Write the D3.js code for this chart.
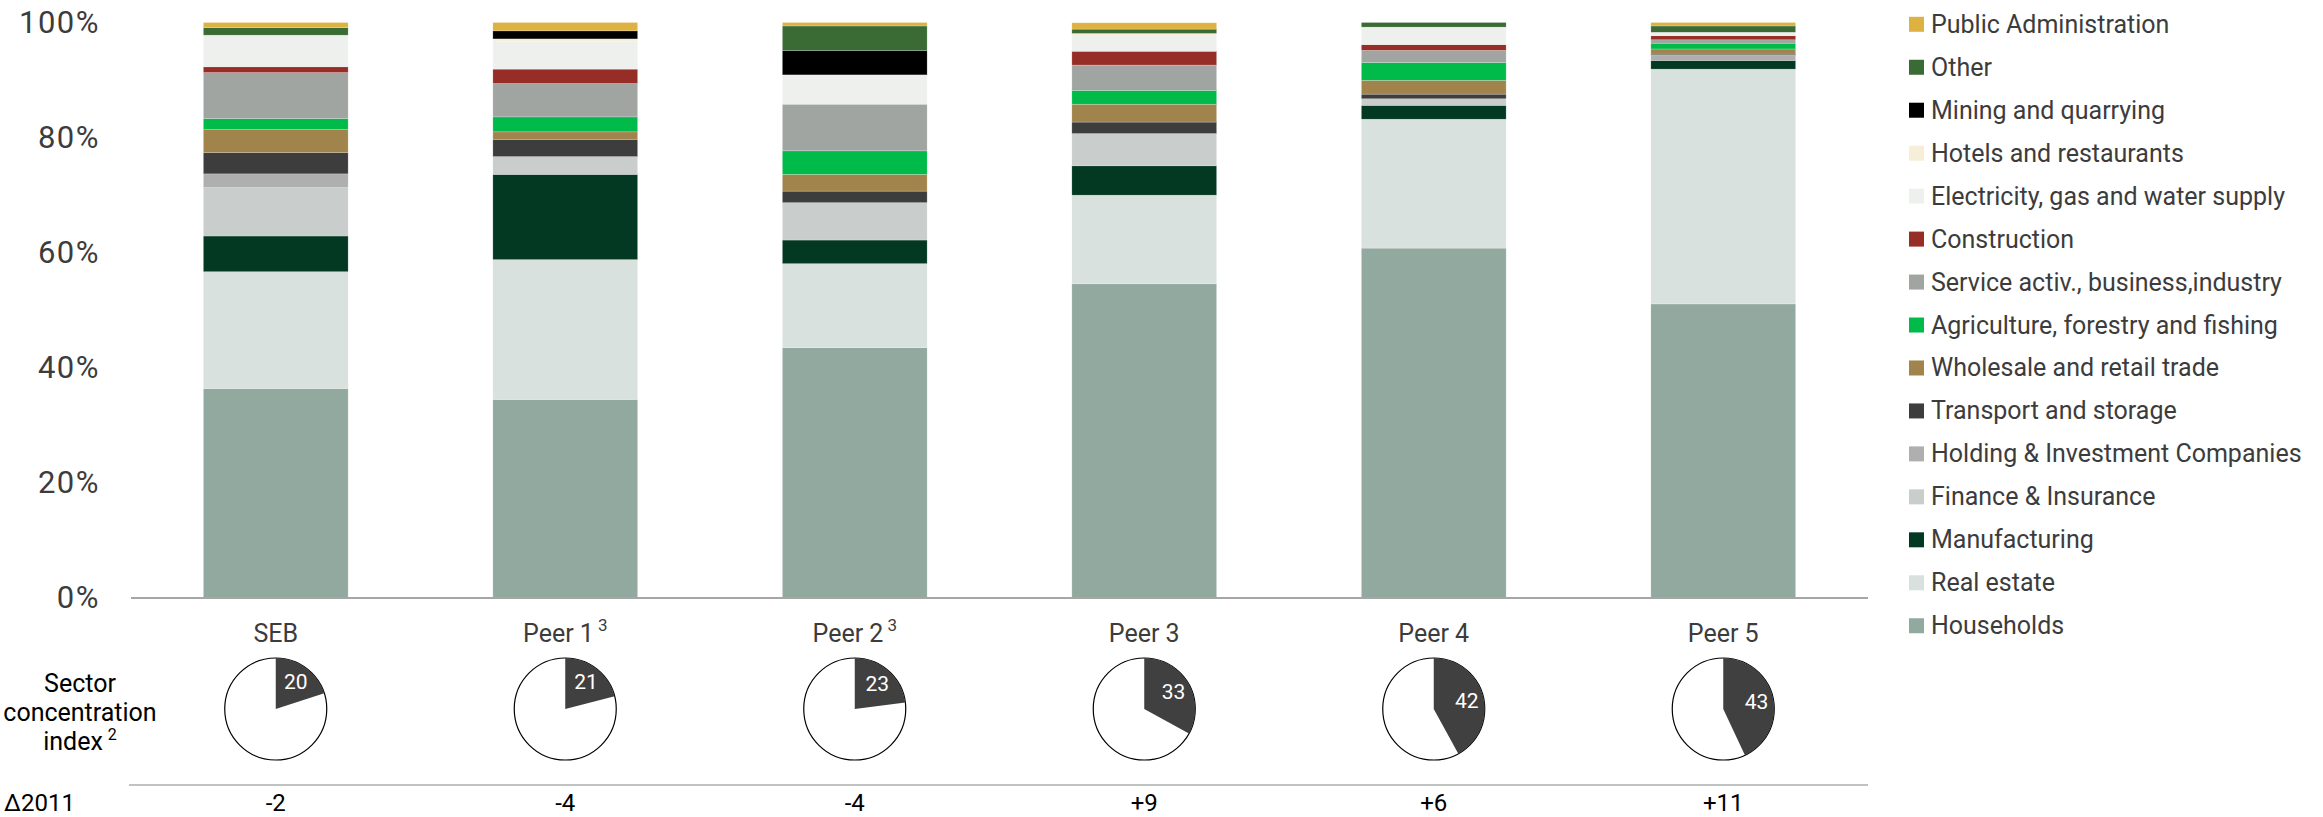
<!DOCTYPE html>
<html>
<head>
<meta charset="utf-8">
<script src="https://cdn.jsdelivr.net/npm/d3@7"></script>
<style>
  html, body { margin: 0; padding: 0; background: #fff; }
  svg { display: block; font-family: Roboto, "Noto Sans", sans-serif; }
</style>
</head>
<body>
<svg id="chart" width="2323" height="817"></svg>
<script>
// ---------- DATA ----------
const categories   = ["SEB", "Peer 1", "Peer 2", "Peer 3", "Peer 4", "Peer 5"];
const categorySup  = ["", "3", "3", "", "", ""];

// sector shares (%) per category, bottom of stack first
const households      = [36.4, 34.5, 43.5, 54.6, 60.8, 51.1];
const realEstate      = [20.3, 24.3, 14.6, 15.4, 22.4, 40.8];
const manufacturing   = [6.2, 14.8, 4.1, 5.1, 2.4, 1.5];
const financeIns      = [8.4, 3.1, 6.5, 5.6, 1.15, 0];
const holdingInv      = [2.4, 0, 0, 0, 0, 0.9];
const transport       = [3.7, 3.0, 2.0, 2.0, 0.8, 0.2];
const wholesale       = [4.0, 1.3, 2.9, 3.1, 2.4, 0.9];
const agriculture     = [1.9, 2.6, 4.1, 2.4, 3.1, 1.0];
const serviceActiv    = [8.0, 5.8, 8.1, 4.4, 2.1, 0.6];
const construction    = [1.0, 2.5, 0, 2.4, 1.0, 0.7];
const electricity     = [5.5, 4.75, 5.1, 2.65, 2.95, 0.6];
const hotels          = [0, 0.5, 0, 0.45, 0.1, 0];
const mining          = [0, 1.4, 4.2, 0, 0, 0];
const other           = [1.3, 0, 4.3, 0.75, 0.8, 1.1];
const publicAdmin     = [0.9, 1.45, 0.6, 1.1, 0, 0.6];

const seriesNames = [
  "Households", "Real estate", "Manufacturing", "Finance & Insurance",
  "Holding & Investment Companies", "Transport and storage",
  "Wholesale and retail trade", "Agriculture, forestry and fishing",
  "Service activ., business,industry", "Construction",
  "Electricity, gas and water supply", "Hotels and restaurants",
  "Mining and quarrying", "Other", "Public Administration"
];
const seriesValues = [
  households, realEstate, manufacturing, financeIns, holdingInv, transport,
  wholesale, agriculture, serviceActiv, construction, electricity, hotels,
  mining, other, publicAdmin
];
const seriesColors = [
  "#92A9A0", "#D8E1DE", "#033823", "#C9CDCB", "#AFAFAF", "#3D3D3D",
  "#A0844B", "#00BB4A", "#A0A5A2", "#962E27", "#EEF0EE", "#F7EEDA",
  "#000000", "#3B6B35", "#DDB240"
];

const concentrationIndex = [20, 21, 23, 33, 42, 43];
const delta2011 = ["-2", "-4", "-4", "+9", "+6", "+11"];
const yTicks = [0, 20, 40, 60, 80, 100];

// ---------- LAYOUT ----------
const svg = d3.select("#chart");
const plotLeft = 131, plotRight = 1868, plotTop = 22.5, plotBottom = 598;
const textColor = "#3c3c3c";

const x = d3.scaleBand().domain(categories).range([plotLeft, plotRight]).paddingInner(0.5).paddingOuter(0.25);
const y = d3.scaleLinear().domain([0, 100]).range([plotBottom, plotTop]);

// table for stack
const rows = categories.map((c, i) => {
  const r = { category: c };
  seriesNames.forEach((n, k) => { r[n] = seriesValues[k][i]; });
  return r;
});
const stacked = d3.stack().keys(seriesNames)(rows);
const color = d3.scaleOrdinal().domain(seriesNames).range(seriesColors);

// y axis labels
const yAxis = d3.axisLeft(y).tickValues(yTicks).tickFormat(d => d + "%").tickSize(0).tickPadding(0);
const yg = svg.append("g").attr("transform", `translate(100,0)`).call(yAxis);
yg.select(".domain").remove();
yg.selectAll("text").attr("font-size", 31).attr("fill", textColor)
  .attr("font-family", "Roboto, sans-serif").attr("letter-spacing", 1.5);

// bars
svg.append("g").selectAll("g")
  .data(stacked).join("g")
  .attr("fill", d => color(d.key))
  .selectAll("rect")
  .data(d => d.map(s => ({ s, key: d.key })))
  .join("rect")
  .attr("x", d => x(d.s.data.category))
  .attr("width", x.bandwidth())
  .attr("y", d => y(d.s[1]))
  .attr("height", d => Math.max(0, y(d.s[0]) - y(d.s[1])))
  .attr("stroke", "#ffffff").attr("stroke-opacity", 0.35).attr("stroke-width", 0.6);

// baseline
const xAxis = d3.axisBottom(x).tickSize(0).tickFormat("");
const xg = svg.append("g").attr("transform", `translate(0,${plotBottom})`).call(xAxis);
xg.select(".domain").attr("stroke", "#A6A6A6").attr("stroke-width", 2)
  .attr("d", `M${plotLeft},0H${plotRight}`);

// category labels with superscripts
const catLabels = svg.append("g").selectAll("text").data(categories).join("text")
  .attr("x", d => x(d) + x.bandwidth() / 2)
  .attr("y", 642)
  .attr("text-anchor", "middle")
  .attr("font-size", 25)
  .attr("fill", textColor);
catLabels.append("tspan").text(d => d);
catLabels.filter((d, i) => categorySup[i] !== "")
  .append("tspan").attr("dx", 4).attr("dy", -11).attr("font-size", 17)
  .text((d) => categorySup[categories.indexOf(d)]);

// pies
const pieR = 51, pieY = 709;
const arc = d3.arc().innerRadius(0).outerRadius(pieR);
const labelArc = d3.arc().innerRadius(17).outerRadius(pieR);
const pies = svg.append("g").selectAll("g").data(categories).join("g")
  .attr("transform", d => `translate(${x(d) + x.bandwidth() / 2},${pieY})`);
pies.append("circle").attr("r", pieR).attr("fill", "#fff").attr("stroke", "#000").attr("stroke-width", 1.2);
pies.each(function (d, i) {
  const v = concentrationIndex[i];
  const a = { startAngle: 0, endAngle: 2 * Math.PI * v / 100 };
  const g = d3.select(this);
  g.append("path").attr("d", arc(a)).attr("fill", "#404040");
  const c = labelArc.centroid(a);
  g.append("text").attr("x", c[0]).attr("y", c[1])
    .attr("text-anchor", "middle").attr("dominant-baseline", "central")
    .attr("font-size", 21).attr("fill", "#fff").text(v);
});

// row header: Sector concentration index
const rh = svg.append("g").attr("fill", "#000").attr("font-size", 25).attr("text-anchor", "middle");
rh.append("text").attr("x", 80).attr("y", 692).text("Sector");
rh.append("text").attr("x", 80).attr("y", 721).text("concentration");
const idx = rh.append("text").attr("x", 80).attr("y", 750);
idx.append("tspan").text("index");
idx.append("tspan").attr("dx", 5).attr("dy", -10).attr("font-size", 16).text("2");

// separator
svg.append("line").attr("x1", 129).attr("x2", plotRight).attr("y1", 785).attr("y2", 785)
  .attr("stroke", "#BFC3C1").attr("stroke-width", 2);

// delta row
svg.append("text").attr("x", 4).attr("y", 811).attr("font-size", 24).attr("fill", "#000").text("Δ2011");
svg.append("g").selectAll("text").data(categories).join("text")
  .attr("x", d => x(d) + x.bandwidth() / 2)
  .attr("y", 811).attr("text-anchor", "middle").attr("font-size", 24).attr("fill", "#000")
  .text((d, i) => delta2011[i]);

// legend (top to bottom = reverse stack order)
const legendItems = seriesNames.slice().reverse();
const lg = svg.append("g").selectAll("g").data(legendItems).join("g")
  .attr("transform", (d, i) => `translate(1909,${24.3 + i * 42.96})`);
lg.append("rect").attr("x", 0).attr("y", -7.5).attr("width", 15).attr("height", 15).attr("fill", d => color(d));
lg.append("text").attr("x", 22).attr("y", 0).attr("dominant-baseline", "central")
  .attr("font-size", 25).attr("fill", textColor).text(d => d);
</script>
</body>
</html>
